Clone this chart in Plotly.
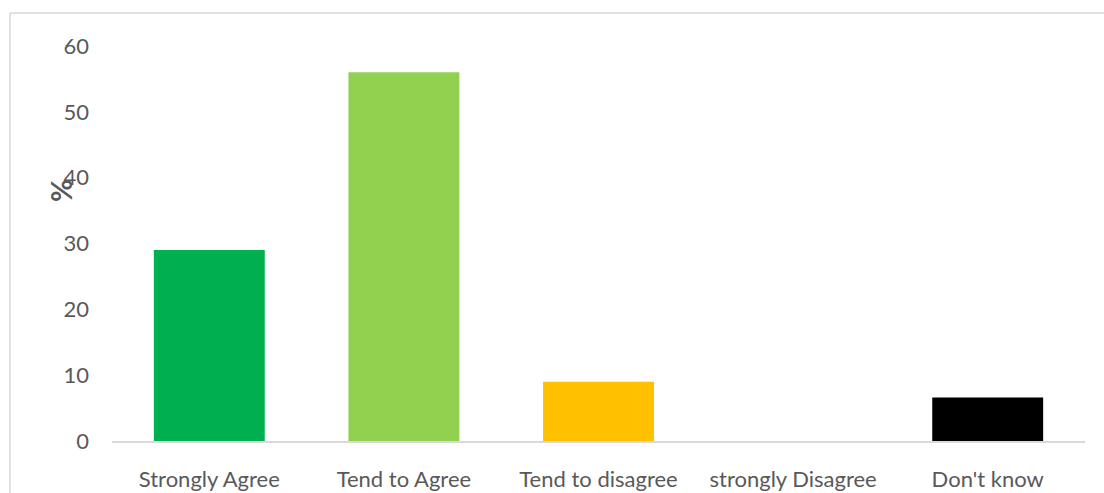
import plotly.graph_objects as go

categories = ["Strongly Agree", "Tend to Agree", "Tend to disagree", "strongly Disagree", "Don't know"]
values = [29, 56, 9, 0, 6.6]
colors = ["#00B050", "#92D050", "#FFC000", "#FFFFFF", "#000000"]
y_ticks = [0, 10, 20, 30, 40, 50, 60]

W, H = 1104, 493
L, R, T, B = 112, 19, 46, 52
pw, ph = W - L - R, H - T - B
FONT = "Lato, Open Sans, sans-serif"

def px(x):
    return (x - L) / pw

def py(y):
    return (H - B - y) / ph

fig = go.Figure(go.Bar(x=categories, y=values, marker=dict(color=colors, line=dict(width=0)),
                       hoverinfo="x+y"))

fig.update_layout(
    width=W, height=H,
    margin=dict(l=L, r=R, t=T, b=B, autoexpand=False),
    paper_bgcolor="white", plot_bgcolor="white",
    bargap=0.43,
    showlegend=False,
    font=dict(family=FONT, color="#595959", size=22),
    xaxis=dict(showgrid=False, showline=True, linecolor="#D9D9D9", linewidth=1.5,
               automargin=False, ticks="", ticklabelstandoff=18,
               tickfont=dict(size=22, color="#595959")),
    yaxis=dict(range=[0, 60], tickvals=y_ticks, showgrid=False, zeroline=False,
               automargin=False, showline=False, ticks="", ticklabelstandoff=22,
               tickfont=dict(size=22, color="#595959")),
    shapes=[
        dict(type="line", xref="paper", yref="paper", x0=px(10), x1=px(W), y0=py(13), y1=py(13),
             line=dict(color="#D9D9D9", width=1.5)),
        dict(type="line", xref="paper", yref="paper", x0=px(10), x1=px(10), y0=py(13), y1=py(H),
             line=dict(color="#D9D9D9", width=1.5)),
    ],
    annotations=[
        dict(text="<b>%</b>", xref="paper", yref="paper", x=px(61), y=py(191), showarrow=False,
             textangle=-90, font=dict(size=28, color="#595959", family=FONT),
             xanchor="center", yanchor="middle")
    ],
)

post = ("var s=document.documentElement.style;s.margin='0';s.padding='0';s.overflow='hidden';"
        "var b=document.body.style;b.margin='0';b.padding='0';b.overflow='hidden';")
fig.write_html("out.html", config={"displayModeBar": False}, post_script=post)
